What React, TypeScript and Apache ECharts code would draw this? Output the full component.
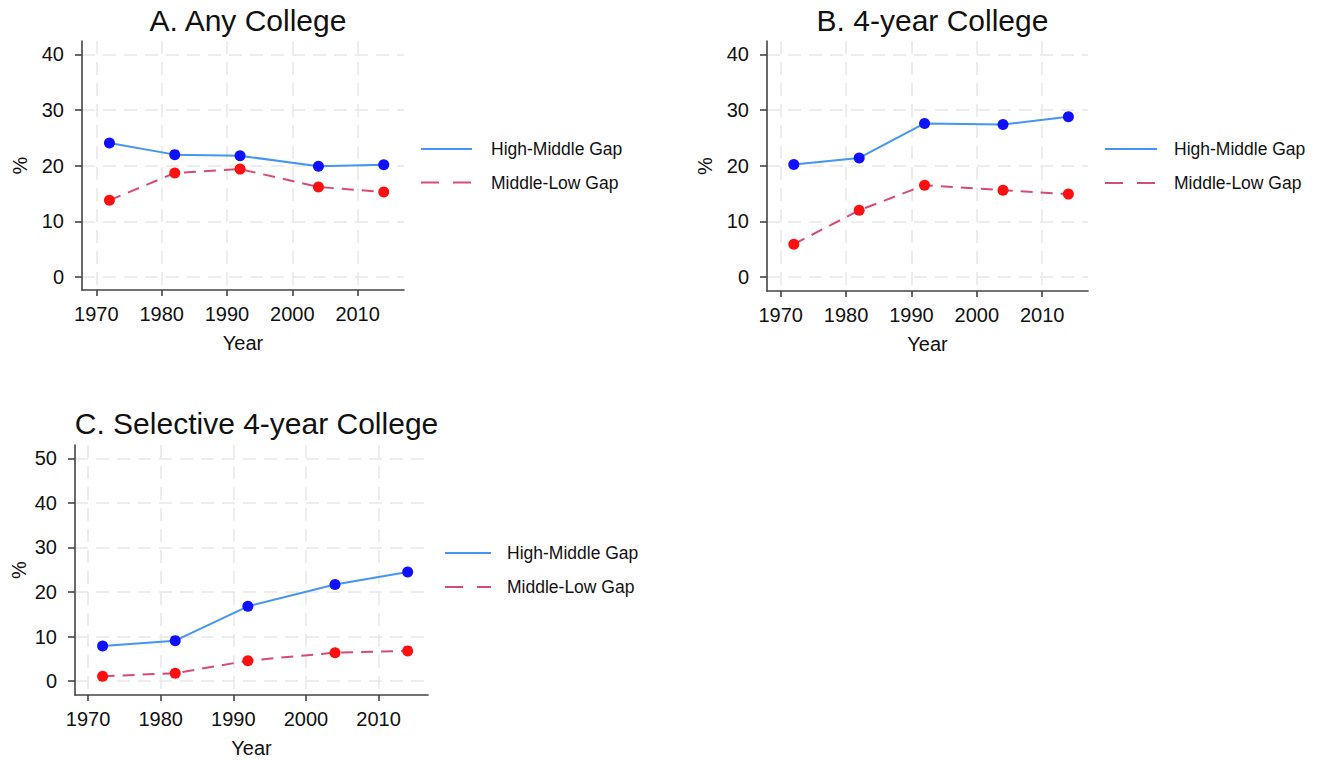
import React, { useEffect, useRef } from "react";
import * as echarts from "echarts";

// ---------- data ----------
const years = [1972, 1982, 1992, 2004, 2014];
const xTickValues = [1970, 1980, 1990, 2000, 2010];
const yTicksAB = [0, 10, 20, 30, 40];
const yTicksC = [0, 10, 20, 30, 40, 50];
const seriesNames = ["High-Middle Gap", "Middle-Low Gap"];
const panelTitles = ["A. Any College", "B. 4-year College", "C. Selective 4-year College"];

const anyHighMiddle = [24.1, 22.0, 21.8, 19.9, 20.2];
const anyMiddleLow = [13.8, 18.7, 19.4, 16.2, 15.3];
const fourHighMiddle = [20.2, 21.4, 27.6, 27.4, 28.8];
const fourMiddleLow = [5.9, 12.0, 16.5, 15.6, 14.9];
const selHighMiddle = [7.9, 9.1, 16.8, 21.7, 24.5];
const selMiddleLow = [1.1, 1.8, 4.6, 6.4, 6.8];

// ---------- styles / layout ----------
const FONT = "Liberation Sans, Arial, sans-serif";
const TEXT = "#111111";
const AXIS = "#444444";
const GRIDC = "#e8e8e8";
const BLUE_LINE = "#4595f2";
const BLUE_MARK = "#1010ff";
const PINK_LINE = "#d64a78";
const RED_MARK = "#ff1010";

const panels = [
  {
    title: panelTitles[0], hm: anyHighMiddle, ml: anyMiddleLow, yTicks: yTicksAB,
    grid: { left: 82, top: 41, width: 322, height: 249 },
    xr: [1967.8, 2017.1], yr: [-2.3, 42.4], yGap: 52,
    titleTop: 0,
    legend: { x1: 421, x2: 472, tx: 491, y1: 149, y2: 182.5 },
  },
  {
    title: panelTitles[1], hm: fourHighMiddle, ml: fourMiddleLow, yTicks: yTicksAB,
    grid: { left: 767, top: 41, width: 321, height: 250 },
    xr: [1967.9, 2017.0], yr: [-2.5, 42.4], yGap: 52,
    titleTop: 0,
    legend: { x1: 1105, x2: 1157, tx: 1174, y1: 149, y2: 183 },
  },
  {
    title: panelTitles[2], hm: selHighMiddle, ml: selMiddleLow, yTicks: yTicksC,
    grid: { left: 75, top: 445, width: 353, height: 250 },
    xr: [1968.2, 2016.8], yr: [-3.1, 53.0], yGap: 46,
    titleTop: 403,
    legend: { x1: 445, x2: 491, tx: 507, y1: 553, y2: 587 },
  },
];

function buildOption() {
  const grid: any[] = [];
  const xAxis: any[] = [];
  const yAxis: any[] = [];
  const series: any[] = [];
  const title: any[] = [];
  const graphic: any[] = [];

  panels.forEach((p, i) => {
    grid.push({ ...p.grid, containLabel: false });
    title.push({
      text: p.title,
      left: p.grid.left + p.grid.width / 2,
      top: p.titleTop,
      textAlign: "center",
      textStyle: { fontSize: 30, fontWeight: "normal", fontFamily: FONT, color: TEXT },
    });
    xAxis.push({
      type: "value",
      gridIndex: i,
      min: p.xr[0],
      max: p.xr[1],
      name: "Year",
      nameLocation: "middle",
      nameGap: 43,
      nameTextStyle: { fontSize: 20, fontFamily: FONT, color: TEXT },
      axisLine: { show: true, onZero: false, lineStyle: { color: AXIS, width: 1.6 } },
      axisTick: { show: true, length: 6, customValues: xTickValues, lineStyle: { color: AXIS, width: 1.6 } },
      axisLabel: {
        customValues: xTickValues,
        formatter: (v: number) => String(Math.round(v)),
        fontSize: 20, fontFamily: FONT, color: TEXT, margin: 14,
      },
      splitLine: { show: true, lineStyle: { color: GRIDC, width: 1.5, type: [13, 8] } },
    });
    yAxis.push({
      type: "value",
      gridIndex: i,
      min: p.yr[0],
      max: p.yr[1],
      name: "%",
      nameLocation: "middle",
      nameGap: p.yGap,
      nameTextStyle: { fontSize: 20, fontFamily: FONT, color: TEXT },
      axisLine: { show: true, onZero: false, lineStyle: { color: AXIS, width: 1.6 } },
      axisTick: { show: true, length: 7, customValues: p.yTicks, lineStyle: { color: AXIS, width: 1.6 } },
      axisLabel: {
        customValues: p.yTicks,
        formatter: (v: number) => String(Math.round(v)),
        fontSize: 20, fontFamily: FONT, color: TEXT, margin: 18,
      },
      splitLine: { show: true, lineStyle: { color: GRIDC, width: 1.5, type: [13, 8] } },
    });
    series.push({
      type: "line",
      name: seriesNames[0],
      xAxisIndex: i,
      yAxisIndex: i,
      data: years.map((y, k) => [y, p.hm[k]]),
      symbol: "circle",
      symbolSize: 11,
      lineStyle: { color: BLUE_LINE, width: 2 },
      itemStyle: { color: BLUE_MARK },
      z: 3,
    });
    series.push({
      type: "line",
      name: seriesNames[1],
      xAxisIndex: i,
      yAxisIndex: i,
      data: years.map((y, k) => [y, p.ml[k]]),
      symbol: "circle",
      symbolSize: 11,
      lineStyle: { color: PINK_LINE, width: 2, type: [12, 8] },
      itemStyle: { color: RED_MARK },
      z: 2,
    });

    const L = p.legend;
    graphic.push(
      { type: "line", shape: { x1: L.x1, y1: L.y1, x2: L.x2, y2: L.y1 }, style: { stroke: BLUE_LINE, lineWidth: 2 } },
      { type: "line", shape: { x1: L.x1, y1: L.y2, x2: L.x2, y2: L.y2 }, style: { stroke: PINK_LINE, lineWidth: 2, lineDash: [18, 14] } },
      { type: "text", x: L.tx, y: L.y1, style: { text: seriesNames[0], fontSize: 17.5, fontFamily: FONT, fill: TEXT, verticalAlign: "middle", align: "left" } },
      { type: "text", x: L.tx, y: L.y2, style: { text: seriesNames[1], fontSize: 17.5, fontFamily: FONT, fill: TEXT, verticalAlign: "middle", align: "left" } }
    );
  });

  return {
    animation: false,
    backgroundColor: "#ffffff",
    title,
    grid,
    xAxis,
    yAxis,
    series,
    graphic,
    tooltip: { show: false },
  };
}

export default function App() {
  const ref = useRef<HTMLDivElement>(null);
  useEffect(() => {
    if (!ref.current) return;
    const chart = echarts.init(ref.current, null, { renderer: "svg" });
    chart.setOption(buildOption() as any);
    return () => chart.dispose();
  }, []);
  return (
    <div
      ref={ref}
      style={{ position: "absolute", left: 0, top: 0, width: 1325, height: 761, background: "#fff" }}
    />
  );
}
